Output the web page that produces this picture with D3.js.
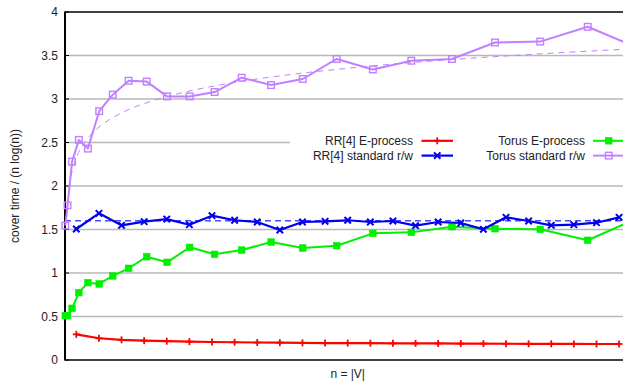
<!DOCTYPE html>
<html>
<head>
<meta charset="utf-8">
<script src="https://cdn.jsdelivr.net/npm/d3@7"></script>
<style>
  html, body { margin: 0; padding: 0; background: #fff; }
  svg { display: block; font-family: "Liberation Sans", Arial, sans-serif; }
</style>
</head>
<body>
<svg id="chart" width="623" height="381"></svg>
<script>
// Graph sizes n = |V|
const rrSizes = [1000, 3000, 5000, 7000, 9000, 11000, 13000, 15000, 17000, 19000, 21000,
  23000, 25000, 27000, 29000, 31000, 33000, 35000, 37000, 39000, 41000, 43000, 45000, 47000, 49000];
const torusSides = [5, 15, 25, 35, 45, 55, 65, 75, 85, 95, 105, 115, 125, 135, 145, 155,
  165, 175, 185, 195, 205, 215, 225];
const torusSizes = torusSides.map(k => k * k);

// cover time / (n log n)
const rrEProcess = [0.295, 0.25, 0.232, 0.222, 0.216, 0.211, 0.207, 0.204, 0.201, 0.199, 0.197,
  0.195, 0.194, 0.193, 0.192, 0.191, 0.19, 0.189, 0.188, 0.187, 0.186, 0.186, 0.185, 0.184, 0.184];
const rrStandard = [1.506, 1.686, 1.548, 1.59, 1.62, 1.555, 1.659, 1.606, 1.586, 1.494, 1.586,
  1.594, 1.606, 1.586, 1.598, 1.544, 1.586, 1.575, 1.502, 1.64, 1.598, 1.548, 1.555, 1.578, 1.64];
const torusEProcess = [0.51, 0.51, 0.594, 0.774, 0.889, 0.874, 0.966, 1.054, 1.187, 1.123, 1.295,
  1.215, 1.264, 1.356, 1.287, 1.314, 1.456, 1.467, 1.532, 1.509, 1.502, 1.376, 1.63];
const torusStandard = [1.544, 1.778, 2.28, 2.53, 2.43, 2.86, 3.05, 3.21, 3.2, 3.03, 3.03,
  3.08, 3.245, 3.16, 3.23, 3.46, 3.34, 3.44, 3.46, 3.65, 3.66, 3.83, 3.59];

// Reference curves (dashed)
const rrStandardLevel = 1.6;
const torusTrendN = [500, 1000, 1500, 2000, 3000, 4000, 5000, 7500, 10000, 15000, 20000,
  25000, 30000, 35000, 40000, 45000, 50000];
const torusTrendV = [2.106, 2.327, 2.456, 2.548, 2.677, 2.769, 2.84, 2.97, 3.061, 3.19, 3.282,
  3.353, 3.412, 3.461, 3.503, 3.541, 3.575];

const yTicks = [0, 0.5, 1, 1.5, 2, 2.5, 3, 3.5, 4];
const seriesNames = ["RR[4] E-process", "RR[4] standard r/w", "Torus E-process", "Torus standard r/w"];

const svg = d3.select("#chart");
const plotLeft = 65, plotRight = 630.4, plotTop = 12, plotBottom = 360;

const x = d3.scaleLinear().domain([0, 50000]).range([plotLeft, plotRight]);
const y = d3.scaleLinear().domain([0, 4]).range([plotBottom, plotTop]);

// grid lines
svg.append("g").selectAll("line").data(yTicks.filter(t => t > 0 && t < 4)).join("line")
  .attr("x1", plotLeft).attr("x2", plotRight)
  .attr("y1", d => y(d)).attr("y2", d => y(d))
  .attr("stroke", "#b8b8b8").attr("stroke-width", 1.5);

// y axis
const yAxis = d3.axisLeft(y).tickValues(yTicks).tickSize(0).tickPadding(7)
  .tickFormat(d3.format("~g"));
const gy = svg.append("g").attr("transform", `translate(${plotLeft},0)`).call(yAxis);
gy.select(".domain").remove();
gy.selectAll("text").attr("font-size", 12).attr("fill", "#222")
  .attr("font-family", "'Liberation Sans', Arial, sans-serif");
// inward tick marks
svg.append("g").selectAll("line").data(yTicks).join("line")
  .attr("x1", plotLeft).attr("x2", plotLeft + 4)
  .attr("y1", d => y(d)).attr("y2", d => y(d))
  .attr("stroke", "#000").attr("stroke-width", 1);

// borders
svg.append("line").attr("x1", plotLeft).attr("x2", plotLeft).attr("y1", plotTop - 0.5).attr("y2", plotBottom + 0.5)
  .attr("stroke", "#000").attr("stroke-width", 2);
svg.append("line").attr("x1", plotLeft).attr("x2", plotRight).attr("y1", plotTop).attr("y2", plotTop)
  .attr("stroke", "#000").attr("stroke-width", 1.5);
svg.append("line").attr("x1", plotLeft).attr("x2", plotRight).attr("y1", plotBottom).attr("y2", plotBottom)
  .attr("stroke", "#000").attr("stroke-width", 1.5);

// axis titles
svg.append("text").attr("x", (plotLeft + plotRight) / 2).attr("y", 378).attr("text-anchor", "middle")
  .attr("font-size", 12).attr("fill", "#222").text("n = |V|");
svg.append("text").attr("transform", `translate(19,${(plotTop + plotBottom) / 2}) rotate(-90)`)
  .attr("text-anchor", "middle").attr("font-size", 12).attr("fill", "#222")
  .text("cover time / (n log(n))");

// legend background (opaque key)
svg.append("rect").attr("x", 290).attr("y", 129).attr("width", 340).attr("height", 37)
  .attr("fill", "#fff");

const line = d3.line().x(d => x(d[0])).y(d => y(d[1]));

// dashed reference curves
svg.append("path")
  .attr("d", d3.line().x(d => x(d[0])).y(d => y(d[1])).curve(d3.curveMonotoneX)(d3.zip(torusTrendN, torusTrendV)))
  .attr("fill", "none").attr("stroke", "#c080ff").attr("stroke-width", 1)
  .attr("stroke-dasharray", "6,5");
svg.append("path")
  .attr("d", line([[0, rrStandardLevel], [50000, rrStandardLevel]]))
  .attr("fill", "none").attr("stroke", "#4a4aff").attr("stroke-width", 1.6)
  .attr("stroke-dasharray", "6,4");

// marker painters
function plus(g, cx, cy, color) {
  g.append("line").attr("x1", cx).attr("x2", cx).attr("y1", cy - 3.5).attr("y2", cy + 3.5)
    .attr("stroke", color).attr("stroke-width", 1.8);
  g.append("line").attr("x1", cx - 3.5).attr("x2", cx + 3.5).attr("y1", cy).attr("y2", cy)
    .attr("stroke", color).attr("stroke-width", 1.8);
}
function cross(g, cx, cy, color) {
  const s = 3.2;
  g.append("path").attr("d", `M${cx - s},${cy - s}L${cx + s},${cy + s}M${cx - s},${cy + s}L${cx + s},${cy - s}`)
    .attr("stroke", color).attr("stroke-width", 2).attr("fill", "none");
}
function filledSquare(g, cx, cy, color) {
  g.append("rect").attr("x", cx - 3.3).attr("y", cy - 3.3).attr("width", 6.6).attr("height", 6.6)
    .attr("fill", color).attr("stroke", color).attr("stroke-width", 0.6);
}
function openSquare(g, cx, cy, color) {
  g.append("rect").attr("x", cx - 3.3).attr("y", cy - 3.3).attr("width", 6.6).attr("height", 6.6)
    .attr("fill", "none").attr("stroke", color).attr("stroke-width", 1.4);
}

const series = [
  { name: seriesNames[0], xs: rrSizes, ys: rrEProcess, color: "#ff0000", mark: plus, width: 2.2 },
  { name: seriesNames[1], xs: rrSizes, ys: rrStandard, color: "#0000ee", mark: cross, width: 2.2 },
  { name: seriesNames[2], xs: torusSizes, ys: torusEProcess, color: "#00f000", mark: filledSquare, width: 2 },
  { name: seriesNames[3], xs: torusSizes, ys: torusStandard, color: "#c080ff", mark: openSquare, width: 2 }
];

const drawOrder = [3, 2, 1, 0];
drawOrder.forEach(i => {
  const s = series[i];
  const pts = d3.zip(s.xs, s.ys);
  const g = svg.append("g");
  g.append("path").attr("d", line(pts)).attr("fill", "none")
    .attr("stroke", s.color).attr("stroke-width", s.width).attr("stroke-linejoin", "round");
  pts.forEach(p => s.mark(g, x(p[0]), y(p[1]), s.color));
});

// legend entries
const legendCols = [
  { textRight: 413, lineX1: 421.5, lineX2: 453 },
  { textRight: 585, lineX1: 593, lineX2: 624.5 }
];
const legendRows = [140.8, 155.6];
series.forEach((s, i) => {
  const col = legendCols[Math.floor(i / 2)];
  const ry = legendRows[i % 2];
  const g = svg.append("g");
  g.append("text").attr("x", col.textRight).attr("y", ry).attr("dy", "0.35em")
    .attr("text-anchor", "end").attr("font-size", 12).attr("fill", "#222").text(s.name);
  g.append("line").attr("x1", col.lineX1).attr("x2", col.lineX2).attr("y1", ry).attr("y2", ry)
    .attr("stroke", s.color).attr("stroke-width", s.width);
  s.mark(g, (col.lineX1 + col.lineX2) / 2, ry, s.color);
});
</script>
</body>
</html>
